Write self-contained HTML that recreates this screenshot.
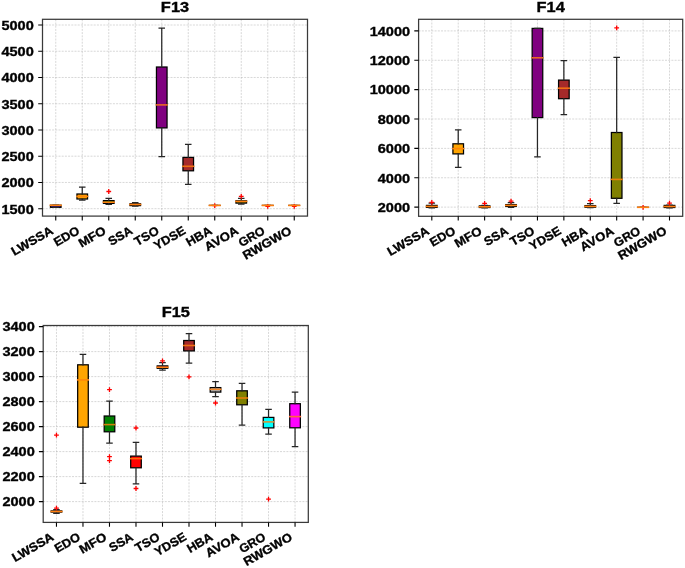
<!DOCTYPE html>
<html><head><meta charset="utf-8"><style>
html,body{margin:0;padding:0;background:#fff;width:685px;height:568px;overflow:hidden}
svg{display:block}
text{font-family:"Liberation Sans",sans-serif;font-weight:bold;fill:#000;stroke:#000;stroke-width:0.35px}
.t{opacity:0.999}
</style></head><body>
<svg width="685" height="568" viewBox="0 0 685 568">
<rect width="685" height="568" fill="#fff"/>
<g class="t">
<path d="M55.75 19.3V216.1 M82.25 19.3V216.1 M108.75 19.3V216.1 M135.25 19.3V216.1 M161.75 19.3V216.1 M188.25 19.3V216.1 M214.75 19.3V216.1 M241.25 19.3V216.1 M267.75 19.3V216.1 M294.25 19.3V216.1 M42.5 25H307.5 M42.5 51.24H307.5 M42.5 77.48H307.5 M42.5 103.72H307.5 M42.5 129.96H307.5 M42.5 156.2H307.5 M42.5 182.44H307.5 M42.5 208.68H307.5" stroke="#b0b0b0" stroke-opacity="0.55" stroke-width="0.9" stroke-dasharray="2,1.2" fill="none"/>
<rect x="50.45" y="205.2" width="10.6" height="2.1" fill="#3a1aa8" stroke="#000" stroke-width="1.25"/>
<path d="M55.75 205.2V205.2M55.75 207.3V207.4M53.1 205.2H58.4M53.1 207.4H58.4" stroke="#262626" stroke-width="1.25" stroke-linecap="square" fill="none"/>
<rect x="76.95" y="194" width="10.6" height="5" fill="#FFA500" stroke="#000" stroke-width="1.25"/>
<path d="M82.25 194V187M82.25 199V200M79.6 187H84.9M79.6 200H84.9" stroke="#262626" stroke-width="1.25" stroke-linecap="square" fill="none"/>
<rect x="103.45" y="200.6" width="10.6" height="2.8" fill="#008000" stroke="#000" stroke-width="1.25"/>
<path d="M108.75 200.6V198.4M108.75 203.4V204.3M106.1 198.4H111.4M106.1 204.3H111.4" stroke="#262626" stroke-width="1.25" stroke-linecap="square" fill="none"/>
<path d="M106.35 191.5H111.15M108.75 189.1V193.9" stroke="#ff0000" stroke-width="1.3" fill="none"/>
<rect x="129.95" y="203.8" width="10.6" height="1.8" fill="#FF0000" stroke="#000" stroke-width="1.25"/>
<path d="M135.25 203.8V202.5M135.25 205.6V206M132.6 202.5H137.9M132.6 206H137.9" stroke="#262626" stroke-width="1.25" stroke-linecap="square" fill="none"/>
<rect x="156.45" y="67" width="10.6" height="60.9" fill="#800080" stroke="#000" stroke-width="1.25"/>
<path d="M161.75 67V28M161.75 127.9V156.5M159.1 28H164.4M159.1 156.5H164.4" stroke="#262626" stroke-width="1.25" stroke-linecap="square" fill="none"/>
<rect x="182.95" y="157.4" width="10.6" height="13.4" fill="#A52A2A" stroke="#000" stroke-width="1.25"/>
<path d="M188.25 157.4V144.4M188.25 170.8V184.4M185.6 144.4H190.9M185.6 184.4H190.9" stroke="#262626" stroke-width="1.25" stroke-linecap="square" fill="none"/>
<rect x="209.45" y="205.4" width="10.6" height="0.01" fill="#A9A9A9" stroke="#000" stroke-width="1.25"/>
<path d="M214.75 205.4V205.4M214.75 205.4V205.4M212.1 205.4H217.4M212.1 205.4H217.4" stroke="#262626" stroke-width="1.25" stroke-linecap="square" fill="none"/>
<path d="M212.35 205.6H217.15M214.75 203.2V208" stroke="#ff0000" stroke-width="1.3" fill="none"/>
<rect x="235.95" y="200.8" width="10.6" height="2.3" fill="#808000" stroke="#000" stroke-width="1.25"/>
<path d="M241.25 200.8V198.4M241.25 203.1V204.1M238.6 198.4H243.9M238.6 204.1H243.9" stroke="#262626" stroke-width="1.25" stroke-linecap="square" fill="none"/>
<path d="M238.85 196.3H243.65M241.25 193.9V198.7" stroke="#ff0000" stroke-width="1.3" fill="none"/>
<rect x="262.45" y="205.4" width="10.6" height="0.01" fill="#00FFFF" stroke="#000" stroke-width="1.25"/>
<path d="M267.75 205.4V205.4M267.75 205.4V205.4M265.1 205.4H270.4M265.1 205.4H270.4" stroke="#262626" stroke-width="1.25" stroke-linecap="square" fill="none"/>
<path d="M265.35 206.3H270.15M267.75 203.9V208.7" stroke="#ff0000" stroke-width="1.3" fill="none"/>
<rect x="288.95" y="205.4" width="10.6" height="0.01" fill="#FF00FF" stroke="#000" stroke-width="1.25"/>
<path d="M294.25 205.4V205.4M294.25 205.4V205.4M291.6 205.4H296.9M291.6 205.4H296.9" stroke="#262626" stroke-width="1.25" stroke-linecap="square" fill="none"/>
<path d="M291.85 206.3H296.65M294.25 203.9V208.7" stroke="#ff0000" stroke-width="1.3" fill="none"/>
<path d="M50.45 205.3H61.05" stroke="#ff7f0e" stroke-width="1.6" stroke-linecap="square" fill="none"/>
<path d="M76.95 196.4H87.55" stroke="#ff860b" stroke-width="1.6" stroke-linecap="square" fill="none"/>
<path d="M103.45 202.2H114.05" stroke="#ff7f0e" stroke-width="1.6" stroke-linecap="square" fill="none"/>
<path d="M129.95 204.5H140.55" stroke="#ff7f0e" stroke-width="1.6" stroke-linecap="square" fill="none"/>
<path d="M156.45 104.9H167.05" stroke="#e86823" stroke-width="1.6" stroke-linecap="square" fill="none"/>
<path d="M182.95 166.3H193.55" stroke="#ef7013" stroke-width="1.6" stroke-linecap="square" fill="none"/>
<path d="M209.45 205.4H220.05" stroke="#ff7f0e" stroke-width="1.6" stroke-linecap="square" fill="none"/>
<path d="M235.95 201.4H246.55" stroke="#ff7f0e" stroke-width="1.6" stroke-linecap="square" fill="none"/>
<path d="M262.45 205.4H273.05" stroke="#ff7f0e" stroke-width="1.6" stroke-linecap="square" fill="none"/>
<path d="M288.95 205.4H299.55" stroke="#ff7f0e" stroke-width="1.6" stroke-linecap="square" fill="none"/>
<rect x="42.5" y="19.3" width="265" height="196.8" fill="none" stroke="#3a3a3a" stroke-width="1.25"/>
<path d="M55.75 216.1v4.3 M82.25 216.1v4.3 M108.75 216.1v4.3 M135.25 216.1v4.3 M161.75 216.1v4.3 M188.25 216.1v4.3 M214.75 216.1v4.3 M241.25 216.1v4.3 M267.75 216.1v4.3 M294.25 216.1v4.3 M42.5 25h-4.3 M42.5 51.24h-4.3 M42.5 77.48h-4.3 M42.5 103.72h-4.3 M42.5 129.96h-4.3 M42.5 156.2h-4.3 M42.5 182.44h-4.3 M42.5 208.68h-4.3" stroke="#000" stroke-width="1.1" fill="none"/>
<text x="33.76" y="29.83" font-size="12.29" text-anchor="end" textLength="32.29" lengthAdjust="spacingAndGlyphs">5000</text>
<text x="33.76" y="56.07" font-size="12.29" text-anchor="end" textLength="32.29" lengthAdjust="spacingAndGlyphs">4500</text>
<text x="33.76" y="82.31" font-size="12.29" text-anchor="end" textLength="32.29" lengthAdjust="spacingAndGlyphs">4000</text>
<text x="33.76" y="108.55" font-size="12.29" text-anchor="end" textLength="32.29" lengthAdjust="spacingAndGlyphs">3500</text>
<text x="33.76" y="134.79" font-size="12.29" text-anchor="end" textLength="32.29" lengthAdjust="spacingAndGlyphs">3000</text>
<text x="33.76" y="161.03" font-size="12.29" text-anchor="end" textLength="32.29" lengthAdjust="spacingAndGlyphs">2500</text>
<text x="33.76" y="187.27" font-size="12.29" text-anchor="end" textLength="32.29" lengthAdjust="spacingAndGlyphs">2000</text>
<text x="33.76" y="213.51" font-size="12.29" text-anchor="end" textLength="32.29" lengthAdjust="spacingAndGlyphs">1500</text>
<g transform="translate(53.95 233.1) rotate(-30)"><text x="0" y="0" font-size="12.29" text-anchor="end" textLength="45.87" lengthAdjust="spacingAndGlyphs">LWSSA</text></g>
<g transform="translate(80.45 233.1) rotate(-30)"><text x="0" y="0" font-size="12.29" text-anchor="end" textLength="27.41" lengthAdjust="spacingAndGlyphs">EDO</text></g>
<g transform="translate(106.95 233.1) rotate(-30)"><text x="0" y="0" font-size="12.29" text-anchor="end" textLength="29.33" lengthAdjust="spacingAndGlyphs">MFO</text></g>
<g transform="translate(133.45 233.1) rotate(-30)"><text x="0" y="0" font-size="12.29" text-anchor="end" textLength="25.69" lengthAdjust="spacingAndGlyphs">SSA</text></g>
<g transform="translate(159.95 233.1) rotate(-30)"><text x="0" y="0" font-size="12.29" text-anchor="end" textLength="26.13" lengthAdjust="spacingAndGlyphs">TSO</text></g>
<g transform="translate(186.45 233.1) rotate(-30)"><text x="0" y="0" font-size="12.29" text-anchor="end" textLength="34.31" lengthAdjust="spacingAndGlyphs">YDSE</text></g>
<g transform="translate(212.95 233.1) rotate(-30)"><text x="0" y="0" font-size="12.29" text-anchor="end" textLength="27.53" lengthAdjust="spacingAndGlyphs">HBA</text></g>
<g transform="translate(239.45 233.1) rotate(-30)"><text x="0" y="0" font-size="12.29" text-anchor="end" textLength="36.79" lengthAdjust="spacingAndGlyphs">AVOA</text></g>
<g transform="translate(265.95 233.1) rotate(-30)"><text x="0" y="0" font-size="12.29" text-anchor="end" textLength="28.31" lengthAdjust="spacingAndGlyphs">GRO</text></g>
<g transform="translate(292.45 233.1) rotate(-30)"><text x="0" y="0" font-size="12.29" text-anchor="end" textLength="53.91" lengthAdjust="spacingAndGlyphs">RWGWO</text></g>
<text x="175" y="11.6" font-size="14.41" text-anchor="middle" textLength="28.22" lengthAdjust="spacingAndGlyphs">F13</text>
<path d="M431.81 19.3V216.3 M458.22 19.3V216.3 M484.62 19.3V216.3 M511.04 19.3V216.3 M537.45 19.3V216.3 M563.86 19.3V216.3 M590.27 19.3V216.3 M616.68 19.3V216.3 M643.09 19.3V216.3 M669.5 19.3V216.3 M418.6 30.9H682.7 M418.6 60.27H682.7 M418.6 89.64H682.7 M418.6 119.01H682.7 M418.6 148.38H682.7 M418.6 177.75H682.7 M418.6 207.12H682.7" stroke="#b0b0b0" stroke-opacity="0.55" stroke-width="0.9" stroke-dasharray="2,1.2" fill="none"/>
<rect x="426.5" y="205.4" width="10.6" height="2" fill="#3a1aa8" stroke="#000" stroke-width="1.25"/>
<path d="M431.81 205.4V203.2M431.81 207.4V207.8M429.16 203.2H434.45M429.16 207.8H434.45" stroke="#262626" stroke-width="1.25" stroke-linecap="square" fill="none"/>
<path d="M429.41 202.3H434.2M431.81 199.9V204.7" stroke="#ff0000" stroke-width="1.3" fill="none"/>
<rect x="452.92" y="143.8" width="10.6" height="10.1" fill="#FFA500" stroke="#000" stroke-width="1.25"/>
<path d="M458.22 143.8V129.9M458.22 153.9V167.3M455.57 129.9H460.87M455.57 167.3H460.87" stroke="#262626" stroke-width="1.25" stroke-linecap="square" fill="none"/>
<rect x="479.32" y="205.9" width="10.6" height="1.6" fill="#008000" stroke="#000" stroke-width="1.25"/>
<path d="M484.62 205.9V205.3M484.62 207.5V207.8M481.98 205.3H487.27M481.98 207.8H487.27" stroke="#262626" stroke-width="1.25" stroke-linecap="square" fill="none"/>
<path d="M482.23 203.4H487.02M484.62 201V205.8" stroke="#ff0000" stroke-width="1.3" fill="none"/>
<rect x="505.74" y="204.6" width="10.6" height="1.8" fill="#FF0000" stroke="#000" stroke-width="1.25"/>
<path d="M511.04 204.6V202.5M511.04 206.4V207.3M508.39 202.5H513.69M508.39 207.3H513.69" stroke="#262626" stroke-width="1.25" stroke-linecap="square" fill="none"/>
<path d="M508.64 201.2H513.44M511.04 198.8V203.6" stroke="#ff0000" stroke-width="1.3" fill="none"/>
<rect x="532.15" y="28.4" width="10.6" height="89.2" fill="#800080" stroke="#000" stroke-width="1.25"/>
<path d="M537.45 28.4V28.4M537.45 117.6V156.9M534.8 28.4H540.1M534.8 156.9H540.1" stroke="#262626" stroke-width="1.25" stroke-linecap="square" fill="none"/>
<rect x="558.56" y="80.1" width="10.6" height="18.6" fill="#A52A2A" stroke="#000" stroke-width="1.25"/>
<path d="M563.86 80.1V60.5M563.86 98.7V114.5M561.21 60.5H566.5M561.21 114.5H566.5" stroke="#262626" stroke-width="1.25" stroke-linecap="square" fill="none"/>
<rect x="584.97" y="205.6" width="10.6" height="1.6" fill="#A9A9A9" stroke="#000" stroke-width="1.25"/>
<path d="M590.27 205.6V203.6M590.27 207.2V207.5M587.62 203.6H592.92M587.62 207.5H592.92" stroke="#262626" stroke-width="1.25" stroke-linecap="square" fill="none"/>
<path d="M587.87 200.6H592.67M590.27 198.2V203" stroke="#ff0000" stroke-width="1.3" fill="none"/>
<rect x="611.38" y="132.5" width="10.6" height="65.8" fill="#808000" stroke="#000" stroke-width="1.25"/>
<path d="M616.68 132.5V57.4M616.68 198.3V203.4M614.03 57.4H619.33M614.03 203.4H619.33" stroke="#262626" stroke-width="1.25" stroke-linecap="square" fill="none"/>
<path d="M614.28 27.9H619.08M616.68 25.5V30.3" stroke="#ff0000" stroke-width="1.3" fill="none"/>
<rect x="637.79" y="207.3" width="10.6" height="0.01" fill="#00FFFF" stroke="#000" stroke-width="1.25"/>
<path d="M643.09 207.3V207.3M643.09 207.3V207.3M640.44 207.3H645.74M640.44 207.3H645.74" stroke="#262626" stroke-width="1.25" stroke-linecap="square" fill="none"/>
<path d="M640.69 207.3H645.49M643.09 204.9V209.7" stroke="#ff0000" stroke-width="1.3" fill="none"/>
<rect x="664.2" y="205.4" width="10.6" height="2.1" fill="#FF00FF" stroke="#000" stroke-width="1.25"/>
<path d="M669.5 205.4V205M669.5 207.5V207.8M666.85 205H672.15M666.85 207.8H672.15" stroke="#262626" stroke-width="1.25" stroke-linecap="square" fill="none"/>
<path d="M667.1 203.1H671.9M669.5 200.7V205.5" stroke="#ff0000" stroke-width="1.3" fill="none"/>
<path d="M426.5 206.4H437.11" stroke="#ff7f0e" stroke-width="1.6" stroke-linecap="square" fill="none"/>
<path d="M452.92 148.6H463.52" stroke="#ff860b" stroke-width="1.6" stroke-linecap="square" fill="none"/>
<path d="M479.32 206.8H489.93" stroke="#ff7f0e" stroke-width="1.6" stroke-linecap="square" fill="none"/>
<path d="M505.74 205.4H516.34" stroke="#ff7f0e" stroke-width="1.6" stroke-linecap="square" fill="none"/>
<path d="M532.15 57.8H542.75" stroke="#e86823" stroke-width="1.6" stroke-linecap="square" fill="none"/>
<path d="M558.56 88.2H569.15" stroke="#ef7013" stroke-width="1.6" stroke-linecap="square" fill="none"/>
<path d="M584.97 206.4H595.57" stroke="#ff7f0e" stroke-width="1.6" stroke-linecap="square" fill="none"/>
<path d="M611.38 179.4H621.98" stroke="#e87f0b" stroke-width="1.6" stroke-linecap="square" fill="none"/>
<path d="M637.79 207.3H648.38" stroke="#ff7f0e" stroke-width="1.6" stroke-linecap="square" fill="none"/>
<path d="M664.2 206.5H674.8" stroke="#ff7f0e" stroke-width="1.6" stroke-linecap="square" fill="none"/>
<rect x="418.6" y="19.3" width="264.1" height="197" fill="none" stroke="#3a3a3a" stroke-width="1.25"/>
<path d="M431.81 216.3v4.3 M458.22 216.3v4.3 M484.62 216.3v4.3 M511.04 216.3v4.3 M537.45 216.3v4.3 M563.86 216.3v4.3 M590.27 216.3v4.3 M616.68 216.3v4.3 M643.09 216.3v4.3 M669.5 216.3v4.3 M418.6 30.9h-4.3 M418.6 60.27h-4.3 M418.6 89.64h-4.3 M418.6 119.01h-4.3 M418.6 148.38h-4.3 M418.6 177.75h-4.3 M418.6 207.12h-4.3" stroke="#000" stroke-width="1.1" fill="none"/>
<text x="410.06" y="35.73" font-size="12.29" text-anchor="end" textLength="40.36" lengthAdjust="spacingAndGlyphs">14000</text>
<text x="410.06" y="65.1" font-size="12.29" text-anchor="end" textLength="40.36" lengthAdjust="spacingAndGlyphs">12000</text>
<text x="410.06" y="94.47" font-size="12.29" text-anchor="end" textLength="40.36" lengthAdjust="spacingAndGlyphs">10000</text>
<text x="410.06" y="123.84" font-size="12.29" text-anchor="end" textLength="32.29" lengthAdjust="spacingAndGlyphs">8000</text>
<text x="410.06" y="153.21" font-size="12.29" text-anchor="end" textLength="32.29" lengthAdjust="spacingAndGlyphs">6000</text>
<text x="410.06" y="182.58" font-size="12.29" text-anchor="end" textLength="32.29" lengthAdjust="spacingAndGlyphs">4000</text>
<text x="410.06" y="211.95" font-size="12.29" text-anchor="end" textLength="32.29" lengthAdjust="spacingAndGlyphs">2000</text>
<g transform="translate(430 233.3) rotate(-30)"><text x="0" y="0" font-size="12.29" text-anchor="end" textLength="45.87" lengthAdjust="spacingAndGlyphs">LWSSA</text></g>
<g transform="translate(456.42 233.3) rotate(-30)"><text x="0" y="0" font-size="12.29" text-anchor="end" textLength="27.41" lengthAdjust="spacingAndGlyphs">EDO</text></g>
<g transform="translate(482.82 233.3) rotate(-30)"><text x="0" y="0" font-size="12.29" text-anchor="end" textLength="29.33" lengthAdjust="spacingAndGlyphs">MFO</text></g>
<g transform="translate(509.24 233.3) rotate(-30)"><text x="0" y="0" font-size="12.29" text-anchor="end" textLength="25.69" lengthAdjust="spacingAndGlyphs">SSA</text></g>
<g transform="translate(535.65 233.3) rotate(-30)"><text x="0" y="0" font-size="12.29" text-anchor="end" textLength="26.13" lengthAdjust="spacingAndGlyphs">TSO</text></g>
<g transform="translate(562.06 233.3) rotate(-30)"><text x="0" y="0" font-size="12.29" text-anchor="end" textLength="34.31" lengthAdjust="spacingAndGlyphs">YDSE</text></g>
<g transform="translate(588.47 233.3) rotate(-30)"><text x="0" y="0" font-size="12.29" text-anchor="end" textLength="27.53" lengthAdjust="spacingAndGlyphs">HBA</text></g>
<g transform="translate(614.88 233.3) rotate(-30)"><text x="0" y="0" font-size="12.29" text-anchor="end" textLength="36.79" lengthAdjust="spacingAndGlyphs">AVOA</text></g>
<g transform="translate(641.29 233.3) rotate(-30)"><text x="0" y="0" font-size="12.29" text-anchor="end" textLength="28.31" lengthAdjust="spacingAndGlyphs">GRO</text></g>
<g transform="translate(667.7 233.3) rotate(-30)"><text x="0" y="0" font-size="12.29" text-anchor="end" textLength="53.91" lengthAdjust="spacingAndGlyphs">RWGWO</text></g>
<text x="550.65" y="11.6" font-size="14.41" text-anchor="middle" textLength="28.22" lengthAdjust="spacingAndGlyphs">F14</text>
<path d="M56.46 325.5V522.4 M82.97 325.5V522.4 M109.48 325.5V522.4 M135.99 325.5V522.4 M162.5 325.5V522.4 M189 325.5V522.4 M215.51 325.5V522.4 M242.03 325.5V522.4 M268.54 325.5V522.4 M295.05 325.5V522.4 M43.2 326.6H308.3 M43.2 351.6H308.3 M43.2 376.6H308.3 M43.2 401.6H308.3 M43.2 426.6H308.3 M43.2 451.6H308.3 M43.2 476.6H308.3 M43.2 501.6H308.3" stroke="#b0b0b0" stroke-opacity="0.55" stroke-width="0.9" stroke-dasharray="2,1.2" fill="none"/>
<rect x="51.16" y="510.9" width="10.6" height="1.2" fill="#3a1aa8" stroke="#000" stroke-width="1.25"/>
<path d="M56.46 510.9V509.7M56.46 512.1V513.3M53.81 509.7H59.11M53.81 513.3H59.11" stroke="#262626" stroke-width="1.25" stroke-linecap="square" fill="none"/>
<path d="M54.06 435.1H58.86M56.46 432.7V437.5" stroke="#ff0000" stroke-width="1.3" fill="none"/>
<path d="M54.06 508.2H58.86M56.46 505.8V510.6" stroke="#ff0000" stroke-width="1.3" fill="none"/>
<rect x="77.67" y="364.8" width="10.6" height="62.4" fill="#FFA500" stroke="#000" stroke-width="1.25"/>
<path d="M82.97 364.8V354.4M82.97 427.2V483.3M80.31 354.4H85.62M80.31 483.3H85.62" stroke="#262626" stroke-width="1.25" stroke-linecap="square" fill="none"/>
<rect x="104.18" y="416" width="10.6" height="15.8" fill="#008000" stroke="#000" stroke-width="1.25"/>
<path d="M109.48 416V401M109.48 431.8V443M106.83 401H112.13M106.83 443H112.13" stroke="#262626" stroke-width="1.25" stroke-linecap="square" fill="none"/>
<path d="M107.08 389.7H111.88M109.48 387.3V392.1" stroke="#ff0000" stroke-width="1.3" fill="none"/>
<path d="M107.08 456.7H111.88M109.48 454.3V459.1" stroke="#ff0000" stroke-width="1.3" fill="none"/>
<path d="M107.08 460.6H111.88M109.48 458.2V463" stroke="#ff0000" stroke-width="1.3" fill="none"/>
<rect x="130.69" y="456.1" width="10.6" height="11.7" fill="#FF0000" stroke="#000" stroke-width="1.25"/>
<path d="M135.99 456.1V442.4M135.99 467.8V483.8M133.34 442.4H138.64M133.34 483.8H138.64" stroke="#262626" stroke-width="1.25" stroke-linecap="square" fill="none"/>
<path d="M133.59 428H138.39M135.99 425.6V430.4" stroke="#ff0000" stroke-width="1.3" fill="none"/>
<path d="M133.59 488.5H138.39M135.99 486.1V490.9" stroke="#ff0000" stroke-width="1.3" fill="none"/>
<rect x="157.19" y="365.9" width="10.6" height="2.4" fill="#800080" stroke="#000" stroke-width="1.25"/>
<path d="M162.5 365.9V362.5M162.5 368.3V370.2M159.84 362.5H165.15M159.84 370.2H165.15" stroke="#262626" stroke-width="1.25" stroke-linecap="square" fill="none"/>
<path d="M160.09 360.9H164.9M162.5 358.5V363.3" stroke="#ff0000" stroke-width="1.3" fill="none"/>
<rect x="183.7" y="340.5" width="10.6" height="10.4" fill="#A52A2A" stroke="#000" stroke-width="1.25"/>
<path d="M189 340.5V333.5M189 350.9V363.1M186.35 333.5H191.66M186.35 363.1H191.66" stroke="#262626" stroke-width="1.25" stroke-linecap="square" fill="none"/>
<path d="M186.6 376.9H191.41M189 374.5V379.3" stroke="#ff0000" stroke-width="1.3" fill="none"/>
<rect x="210.21" y="387.6" width="10.6" height="4.5" fill="#A9A9A9" stroke="#000" stroke-width="1.25"/>
<path d="M215.51 387.6V381.5M215.51 392.1V396.7M212.86 381.5H218.16M212.86 396.7H218.16" stroke="#262626" stroke-width="1.25" stroke-linecap="square" fill="none"/>
<path d="M213.11 403H217.91M215.51 400.6V405.4" stroke="#ff0000" stroke-width="1.3" fill="none"/>
<rect x="236.73" y="390.8" width="10.6" height="14" fill="#808000" stroke="#000" stroke-width="1.25"/>
<path d="M242.03 390.8V383.3M242.03 404.8V425M239.38 383.3H244.68M239.38 425H244.68" stroke="#262626" stroke-width="1.25" stroke-linecap="square" fill="none"/>
<rect x="263.24" y="417.4" width="10.6" height="10.5" fill="#00FFFF" stroke="#000" stroke-width="1.25"/>
<path d="M268.54 417.4V409.3M268.54 427.9V434.2M265.89 409.3H271.19M265.89 434.2H271.19" stroke="#262626" stroke-width="1.25" stroke-linecap="square" fill="none"/>
<path d="M266.14 499.1H270.94M268.54 496.7V501.5" stroke="#ff0000" stroke-width="1.3" fill="none"/>
<rect x="289.75" y="403.7" width="10.6" height="24.1" fill="#FF00FF" stroke="#000" stroke-width="1.25"/>
<path d="M295.05 403.7V392.1M295.05 427.8V446.5M292.4 392.1H297.69M292.4 446.5H297.69" stroke="#262626" stroke-width="1.25" stroke-linecap="square" fill="none"/>
<path d="M51.16 511.5H61.76" stroke="#ff7f0e" stroke-width="1.6" stroke-linecap="square" fill="none"/>
<path d="M77.67 379.9H88.27" stroke="#ff860b" stroke-width="1.6" stroke-linecap="square" fill="none"/>
<path d="M104.18 424.6H114.78" stroke="#d17f0b" stroke-width="1.6" stroke-linecap="square" fill="none"/>
<path d="M130.69 458.6H141.29" stroke="#ff680b" stroke-width="1.6" stroke-linecap="square" fill="none"/>
<path d="M157.19 367.2H167.8" stroke="#ff7f0e" stroke-width="1.6" stroke-linecap="square" fill="none"/>
<path d="M183.7 345.5H194.31" stroke="#ef7013" stroke-width="1.6" stroke-linecap="square" fill="none"/>
<path d="M210.21 389.3H220.81" stroke="#f0872a" stroke-width="1.6" stroke-linecap="square" fill="none"/>
<path d="M236.73 398H247.33" stroke="#e87f0b" stroke-width="1.6" stroke-linecap="square" fill="none"/>
<path d="M263.24 421.9H273.84" stroke="#d19639" stroke-width="1.6" stroke-linecap="square" fill="none"/>
<path d="M289.75 416.6H300.35" stroke="#ff6839" stroke-width="1.6" stroke-linecap="square" fill="none"/>
<rect x="43.2" y="325.5" width="265.1" height="196.9" fill="none" stroke="#3a3a3a" stroke-width="1.25"/>
<path d="M56.46 522.4v4.3 M82.97 522.4v4.3 M109.48 522.4v4.3 M135.99 522.4v4.3 M162.5 522.4v4.3 M189 522.4v4.3 M215.51 522.4v4.3 M242.03 522.4v4.3 M268.54 522.4v4.3 M295.05 522.4v4.3 M43.2 326.6h-4.3 M43.2 351.6h-4.3 M43.2 376.6h-4.3 M43.2 401.6h-4.3 M43.2 426.6h-4.3 M43.2 451.6h-4.3 M43.2 476.6h-4.3 M43.2 501.6h-4.3" stroke="#000" stroke-width="1.1" fill="none"/>
<text x="34.76" y="331.43" font-size="12.29" text-anchor="end" textLength="32.29" lengthAdjust="spacingAndGlyphs">3400</text>
<text x="34.76" y="356.43" font-size="12.29" text-anchor="end" textLength="32.29" lengthAdjust="spacingAndGlyphs">3200</text>
<text x="34.76" y="381.43" font-size="12.29" text-anchor="end" textLength="32.29" lengthAdjust="spacingAndGlyphs">3000</text>
<text x="34.76" y="406.43" font-size="12.29" text-anchor="end" textLength="32.29" lengthAdjust="spacingAndGlyphs">2800</text>
<text x="34.76" y="431.43" font-size="12.29" text-anchor="end" textLength="32.29" lengthAdjust="spacingAndGlyphs">2600</text>
<text x="34.76" y="456.43" font-size="12.29" text-anchor="end" textLength="32.29" lengthAdjust="spacingAndGlyphs">2400</text>
<text x="34.76" y="481.43" font-size="12.29" text-anchor="end" textLength="32.29" lengthAdjust="spacingAndGlyphs">2200</text>
<text x="34.76" y="506.43" font-size="12.29" text-anchor="end" textLength="32.29" lengthAdjust="spacingAndGlyphs">2000</text>
<g transform="translate(54.66 539.4) rotate(-30)"><text x="0" y="0" font-size="12.29" text-anchor="end" textLength="45.87" lengthAdjust="spacingAndGlyphs">LWSSA</text></g>
<g transform="translate(81.17 539.4) rotate(-30)"><text x="0" y="0" font-size="12.29" text-anchor="end" textLength="27.41" lengthAdjust="spacingAndGlyphs">EDO</text></g>
<g transform="translate(107.68 539.4) rotate(-30)"><text x="0" y="0" font-size="12.29" text-anchor="end" textLength="29.33" lengthAdjust="spacingAndGlyphs">MFO</text></g>
<g transform="translate(134.19 539.4) rotate(-30)"><text x="0" y="0" font-size="12.29" text-anchor="end" textLength="25.69" lengthAdjust="spacingAndGlyphs">SSA</text></g>
<g transform="translate(160.69 539.4) rotate(-30)"><text x="0" y="0" font-size="12.29" text-anchor="end" textLength="26.13" lengthAdjust="spacingAndGlyphs">TSO</text></g>
<g transform="translate(187.2 539.4) rotate(-30)"><text x="0" y="0" font-size="12.29" text-anchor="end" textLength="34.31" lengthAdjust="spacingAndGlyphs">YDSE</text></g>
<g transform="translate(213.71 539.4) rotate(-30)"><text x="0" y="0" font-size="12.29" text-anchor="end" textLength="27.53" lengthAdjust="spacingAndGlyphs">HBA</text></g>
<g transform="translate(240.23 539.4) rotate(-30)"><text x="0" y="0" font-size="12.29" text-anchor="end" textLength="36.79" lengthAdjust="spacingAndGlyphs">AVOA</text></g>
<g transform="translate(266.74 539.4) rotate(-30)"><text x="0" y="0" font-size="12.29" text-anchor="end" textLength="28.31" lengthAdjust="spacingAndGlyphs">GRO</text></g>
<g transform="translate(293.25 539.4) rotate(-30)"><text x="0" y="0" font-size="12.29" text-anchor="end" textLength="53.91" lengthAdjust="spacingAndGlyphs">RWGWO</text></g>
<text x="175.8" y="317.4" font-size="14.41" text-anchor="middle" textLength="28.22" lengthAdjust="spacingAndGlyphs">F15</text>
</g>
</svg></body></html>
